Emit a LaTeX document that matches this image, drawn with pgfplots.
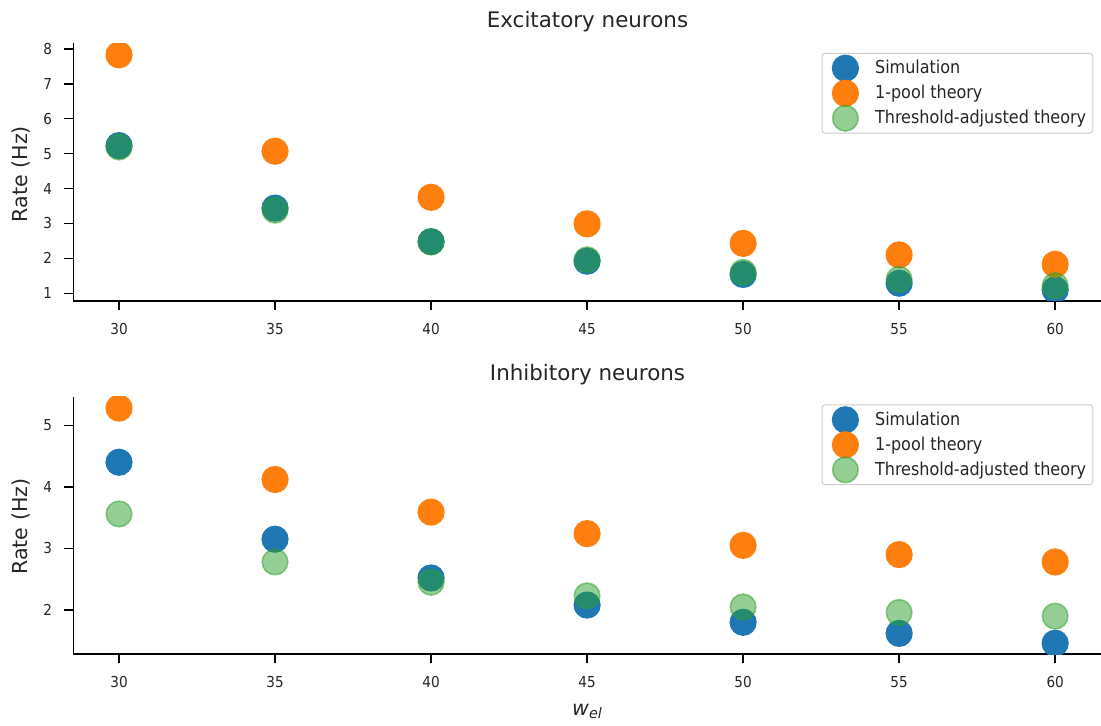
\documentclass[border=0pt]{standalone}
\usepackage{fontspec}
\setmainfont{DejaVu Sans}
\newfontfamily\cond{DejaVu Sans Condensed}
\usepackage{pgfplots}
\pgfplotsset{compat=1.18}
\definecolor{c0}{HTML}{1F77B4}
\definecolor{c1}{HTML}{FF7F0E}
\definecolor{c2}{HTML}{2CA02C}
\pgfplotsset{
 myax/.style={
  scale only axis, width=513.85pt,
  axis x line*=bottom, axis y line*=left,
  axis line style={line width=0.8pt, black},
  xmin=28.535, xmax=61.47,
  xtick={30,35,...,60},
  tick align=outside, major tick length=4.5pt,
  tick style={line width=0.75pt, black},
  ticklabel style={font=\cond\fontsize{7.55}{9}\selectfont, text=black!85},
  /pgf/number format/assume math mode=true,
  xticklabel style={yshift=-3.3pt},
  yticklabel style={xshift=-2.6pt},
  clip marker paths=true,
  legend cell align=left,
  legend style={anchor=north east, draw=black!20, line width=0.5pt, rounded corners=1.5pt, fill=white, fill opacity=0.8, text opacity=1, inner xsep=3.3pt, inner ysep=1.2pt, column sep=8.35pt, row sep=0pt, font=\cond\fontsize{8.9}{10}\selectfont, text=black!85, nodes={inner sep=0pt}},
  legend image code/.code={\path[draw=none, fill=none] (-8.35pt,-6.25pt) rectangle (6.5pt,6.25pt); \draw[fill opacity=1, draw opacity=1, ##1, overlay] plot coordinates {(0pt,0pt)};},
 },
 sim/.style={only marks, mark=*, mark size=6.4pt, mark options={fill=c0, draw=c0, line width=0.8pt}},
 one/.style={only marks, mark=*, mark size=6.4pt, mark options={fill=c1, draw=c1, line width=0.8pt}},
 thr/.style={only marks, mark=*, mark size=6.4pt, mark options={fill=c2, draw=c2, line width=0.8pt, opacity=0.5}},
}
\begin{document}
\begin{tikzpicture}
\useasboundingbox (0,0) rectangle (550.5pt,-363pt);
\begin{axis}[myax, name=top, at={(36.65pt,-21.65pt)}, anchor=north west,
  height=128.85pt, ymin=0.78, ymax=8.16, ytick={1,2,...,8},
  legend style={at={(0.9925,0.963)}}]
\addplot[sim] coordinates {(30,5.23)(35,3.44)(40,2.48)(45,1.92)(50,1.54)(55,1.29)(60,1.10)};
\addplot[one] coordinates {(30,7.83)(35,5.07)(40,3.75)(45,2.99)(50,2.43)(55,2.10)(60,1.83)};
\addplot[thr] coordinates {(30,5.19)(35,3.38)(40,2.47)(45,1.96)(50,1.60)(55,1.40)(60,1.22)};
\legend{Simulation,1-pool theory,Threshold-adjusted theory}
\end{axis}
\begin{axis}[myax, name=bot, at={(36.65pt,-198.35pt)}, anchor=north west,
  height=128.65pt, ymin=1.285, ymax=5.465, ytick={2,3,4,5},
  legend style={at={(0.9925,0.970)}}]
\addplot[sim] coordinates {(30,4.40)(35,3.15)(40,2.52)(45,2.08)(50,1.80)(55,1.62)(60,1.46)};
\addplot[one] coordinates {(30,5.28)(35,4.12)(40,3.59)(45,3.24)(50,3.05)(55,2.90)(60,2.78)};
\addplot[thr] coordinates {(30,3.56)(35,2.78)(40,2.45)(45,2.23)(50,2.05)(55,1.96)(60,1.90)};
\legend{Simulation,1-pool theory,Threshold-adjusted theory}
\end{axis}
\node[anchor=base, font=\fontsize{10.7}{12}\selectfont, text=black!85] at (293.75pt,-13.65pt) {Excitatory neurons};
\node[anchor=base, font=\fontsize{10.7}{12}\selectfont, text=black!85] at (293.75pt,-190.35pt) {Inhibitory neurons};
\node[anchor=base, rotate=90, font=\fontsize{10.3}{12}\selectfont, text=black!85] at (13.85pt,-87.1pt) {Rate (Hz)};
\node[anchor=base, rotate=90, font=\fontsize{10.3}{12}\selectfont, text=black!85] at (13.85pt,-263.3pt) {Rate (Hz)};
\node[anchor=base, font=\fontsize{10.3}{12}\selectfont, text=black!85] at (293.5pt,-357.5pt) {\itshape w\raisebox{-1.5pt}{\fontsize{7.2}{8}\selectfont el}};
\end{tikzpicture}
\end{document}
